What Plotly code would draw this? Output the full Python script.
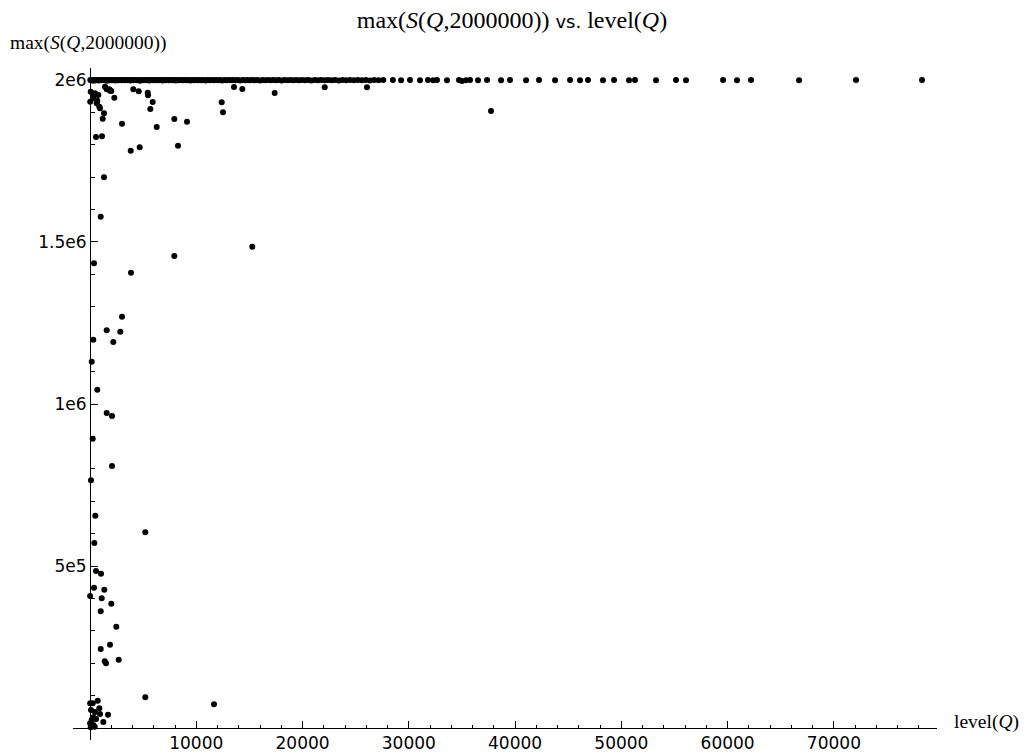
import plotly.graph_objects as go

# ---------------- data ----------------
# points lying on (or just under) the top row, max(S(Q,2000000)) ~ 2e6
top_level = [
    30, 120, 210, 340, 450, 560, 700, 820, 960, 1080, 1210, 1350, 1460, 1590, 1720, 1840,
    1990, 2110, 2260, 2390, 2520, 2680, 2810, 2950,
    3100, 3240, 3390, 3520, 3680, 3810, 3960, 4120, 4250, 4400, 4560, 4700, 4830, 4990,
    5150, 5280, 5420, 5590, 5730, 5880, 6020, 6190, 6350, 6480, 6640, 6810, 6950, 7120,
    7280, 7420, 7600, 7760, 7930, 8080, 8250, 8410, 8590, 8740, 8920, 9100, 9260, 9450,
    9610, 9790, 9960,
    10150, 10340, 10520, 10690, 10880, 11060, 11240, 11450, 11620, 11810, 12030, 12240,
    12430, 12650, 12840, 13060, 13270, 13480, 13700, 13910, 14120, 14360, 14580, 14800,
    15040, 15270, 15500, 15740, 15990, 16230, 16480, 16720, 16980, 17240, 17500, 17770,
    18030, 18290, 18560, 18830, 19110, 19390, 19680, 19960,
    20250, 20540, 20830, 21140, 21450, 21760, 22080, 22400, 22730, 23070, 23410, 23760,
    24100, 24460, 24830, 25200, 25580, 25960, 26350, 26740, 27150, 27600,
    28500, 29270, 30110, 31050, 31800, 32280, 32650, 33590, 34720, 35000, 35380, 35760,
    36510, 37360, 38680, 39520, 41030, 42250, 43760, 45170, 46110, 46860, 48270, 49310,
    50720, 51280, 53260, 55140, 56080, 59570, 60880, 62200, 66720, 72080, 78290,
]
top_max = [
    2000000, 1999000, 2000000, 1998000, 2000000, 1999500, 2000000, 1998500, 2000000, 1999000,
    2000000, 1999500, 2000000, 1998000, 2000000, 1999000, 2000000, 1999500, 2000000, 1998500,
    2000000, 1999000, 2000000, 1999500,
    2000000, 1999000, 2000000, 1999500, 2000000, 1998500, 2000000, 1999000, 2000000, 1999500,
    2000000, 1998000, 2000000, 1999000, 2000000, 1999500, 2000000, 1998500, 2000000, 1999000,
    2000000, 1999500, 2000000, 1999000, 2000000, 1998500, 2000000, 1999500, 2000000, 1999000,
    2000000, 1999500, 2000000, 1998500, 2000000, 1999000, 2000000, 1999500, 2000000, 1999000,
    2000000, 1998500, 2000000, 1999500, 2000000,
    1999000, 2000000, 1999500, 2000000, 1998500, 2000000, 1999000, 2000000, 1999500, 2000000,
    1999000, 2000000, 1998500, 2000000, 1999500, 2000000, 1999000, 2000000, 1999500, 2000000,
    1998500, 2000000, 1999000, 2000000, 1999500, 2000000, 1999000, 2000000, 1998500, 2000000,
    1999500, 2000000, 1999000, 2000000, 1999500, 2000000, 1998500, 2000000, 1999000, 2000000,
    1999500, 2000000, 1999000, 2000000,
    1999500, 2000000, 1998500, 2000000, 1999000, 2000000, 1999500, 2000000, 1999000, 2000000,
    1998500, 2000000, 1999500, 2000000, 1999000, 2000000, 1999500, 2000000, 1998500, 2000000,
    1999000, 2000000,
    2000000, 1999500, 2000000, 1999000, 2000000, 1999500, 2000000, 1999000, 2000000, 1997000,
    1999500, 2000000, 1999000, 2000000, 1999500, 2000000, 1999000, 2000000, 1999500, 2000000,
    1999000, 2000000, 1999500, 2000000, 1999000, 2000000, 1999500, 2000000, 1999000, 2000000,
    1999500, 2000000, 1999000, 2000000, 2000000,
]

# points below the top row
other_level = [
    66, 310, 20, 687, 630, 875, 1317, 1195, 565, 1129, 1317, 1412, 1816, 2004, 2287,
    3011, 3830, 4075, 4583, 4677, 5430, 5458, 5900, 5674, 6276, 7933, 8281, 9128,
    12393, 12515, 13550, 14331, 17380, 22086, 26066, 37734,
    470, 781, 310, 941, 1571, 1882,
    1007, 15273, 376, 7933, 3858, 3011, 1571, 2851, 310, 2193, 160, 687, 1571, 2070,
    254, 2070, 94, 499, 5204, 405, 565, 1035, 376, 1346, 10, 1101, 2004, 1007, 2475,
    1007, 1882, 1383, 1506, 2701, 5204, 11668, 725, 15, 254, 875, 94, 941, 1694, 310,
    565, 160, 1252, 10, 310, 442, 66, 470,
]
other_max = [
    1963900, 1950600, 1933000, 1936100, 1928100, 1917600, 1897200, 1880600, 1824100,
    1826200, 1699700, 1979300, 1971300, 1966100, 1945400,
    1865100, 1781800, 1971300, 1965100, 1792300, 1960800, 1952800, 1932100, 1910500,
    1854900, 1879600, 1797200, 1871300,
    1931200, 1900300, 1978400, 1972200, 1959900, 1977500, 1977500, 1904300,
    1958900, 1953700, 1943500, 1912700, 1971300, 1967000,
    1578100, 1485500, 1434300, 1456800, 1405300, 1269500, 1227500, 1223200, 1198500,
    1191400, 1130600, 1044100, 972200, 963000,
    892900, 808600, 764500, 655300, 604000, 571000, 484600, 476200, 433000, 426900,
    407400, 400300, 383600, 360200, 312700,
    243800, 257100, 205900, 199700, 210800, 94800, 73100, 84300, 76200, 76200, 60800,
    55600, 43200, 41000, 33000,
    27800, 24700, 18500, 14500, 9300, 4000, 2000, 49400,
]

x_ticks = [10000, 20000, 30000, 40000, 50000, 60000, 70000]
x_tick_text = ["10000", "20000", "30000", "40000", "50000", "60000", "70000"]
y_ticks = [500000, 1000000, 1500000, 2000000]
y_tick_text = ["5e5", "1e6", "1.5e6", "2e6"]
x_minor = [v for v in range(2000, 80000, 2000) if v % 10000 != 0]
y_minor = [v for v in range(100000, 2000001, 100000) if v % 500000 != 0]

# ---------------- figure ----------------
W, H = 1024, 756
L, R, T, B = 73, 87, 68, 16
pw, ph = W - L - R, H - T - B
x_range = [-1600, 79700]
y_range = [-37000, 2037000]

def px_to_paper_x(px):
    return (px - L) / pw

def py_to_paper_y(py):
    return (H - B - py) / ph

x0_paper = (0 - x_range[0]) / (x_range[1] - x_range[0])
y0_paper = (0 - y_range[0]) / (y_range[1] - y_range[0])

fig = go.Figure()
fig.add_trace(go.Scatter(
    x=top_level + other_level, y=top_max + other_max, mode="markers",
    marker=dict(color="black", size=6, line=dict(width=0)),
    showlegend=False, cliponaxis=False,
))

serif = "Liberation Serif, Times New Roman, serif"
sans = "DejaVu Sans, sans-serif"

axis_common = dict(
    showgrid=False, zeroline=False, showline=True, linecolor="black", linewidth=1,
    ticks="inside", ticklen=7, tickwidth=1, tickcolor="black",
    tickfont=dict(family=sans, size=17, color="black"), anchor="free",
)

fig.update_layout(
    width=W, height=H,
    margin=dict(l=L, r=R, t=T, b=B, autoexpand=False),
    paper_bgcolor="white", plot_bgcolor="white",
    title=dict(
        text='max(<i>S</i>(<i>Q</i>,2000000)) <span style="font-family:DejaVu Sans,sans-serif;font-size:18px">vs.</span> level(<i>Q</i>)',
        x=0.5, xref="container", xanchor="center",
        y=1 - 20 / H, yref="container", yanchor="middle",
        font=dict(family=serif, size=24, color="black"),
    ),
    xaxis=dict(
        range=x_range, position=y0_paper,
        tickvals=x_ticks, ticktext=x_tick_text,
        minor=dict(tickvals=x_minor, ticks="inside", ticklen=3.5, tickcolor="black", tickwidth=1),
        **axis_common,
    ),
    yaxis=dict(
        range=y_range, position=x0_paper,
        tickvals=y_ticks, ticktext=y_tick_text,
        minor=dict(tickvals=y_minor, ticks="inside", ticklen=3.5, tickcolor="black", tickwidth=1),
        **axis_common,
    ),
    annotations=[
        dict(text="max(<i>S</i>(<i>Q</i>,2000000))", xref="paper", yref="paper",
             x=px_to_paper_x(8), y=py_to_paper_y(43), xanchor="left", yanchor="middle",
             showarrow=False, font=dict(family=serif, size=19.5, color="black")),
        dict(text="level(<i>Q</i>)", xref="paper", yref="paper",
             x=px_to_paper_x(952), y=py_to_paper_y(722), xanchor="left", yanchor="middle",
             showarrow=False, font=dict(family=serif, size=19.5, color="black")),
    ],
)

fig.write_html(
    "out.html",
    config={"displayModeBar": False},
    post_script="document.body.style.margin='0';document.body.style.overflow='hidden';",
)
